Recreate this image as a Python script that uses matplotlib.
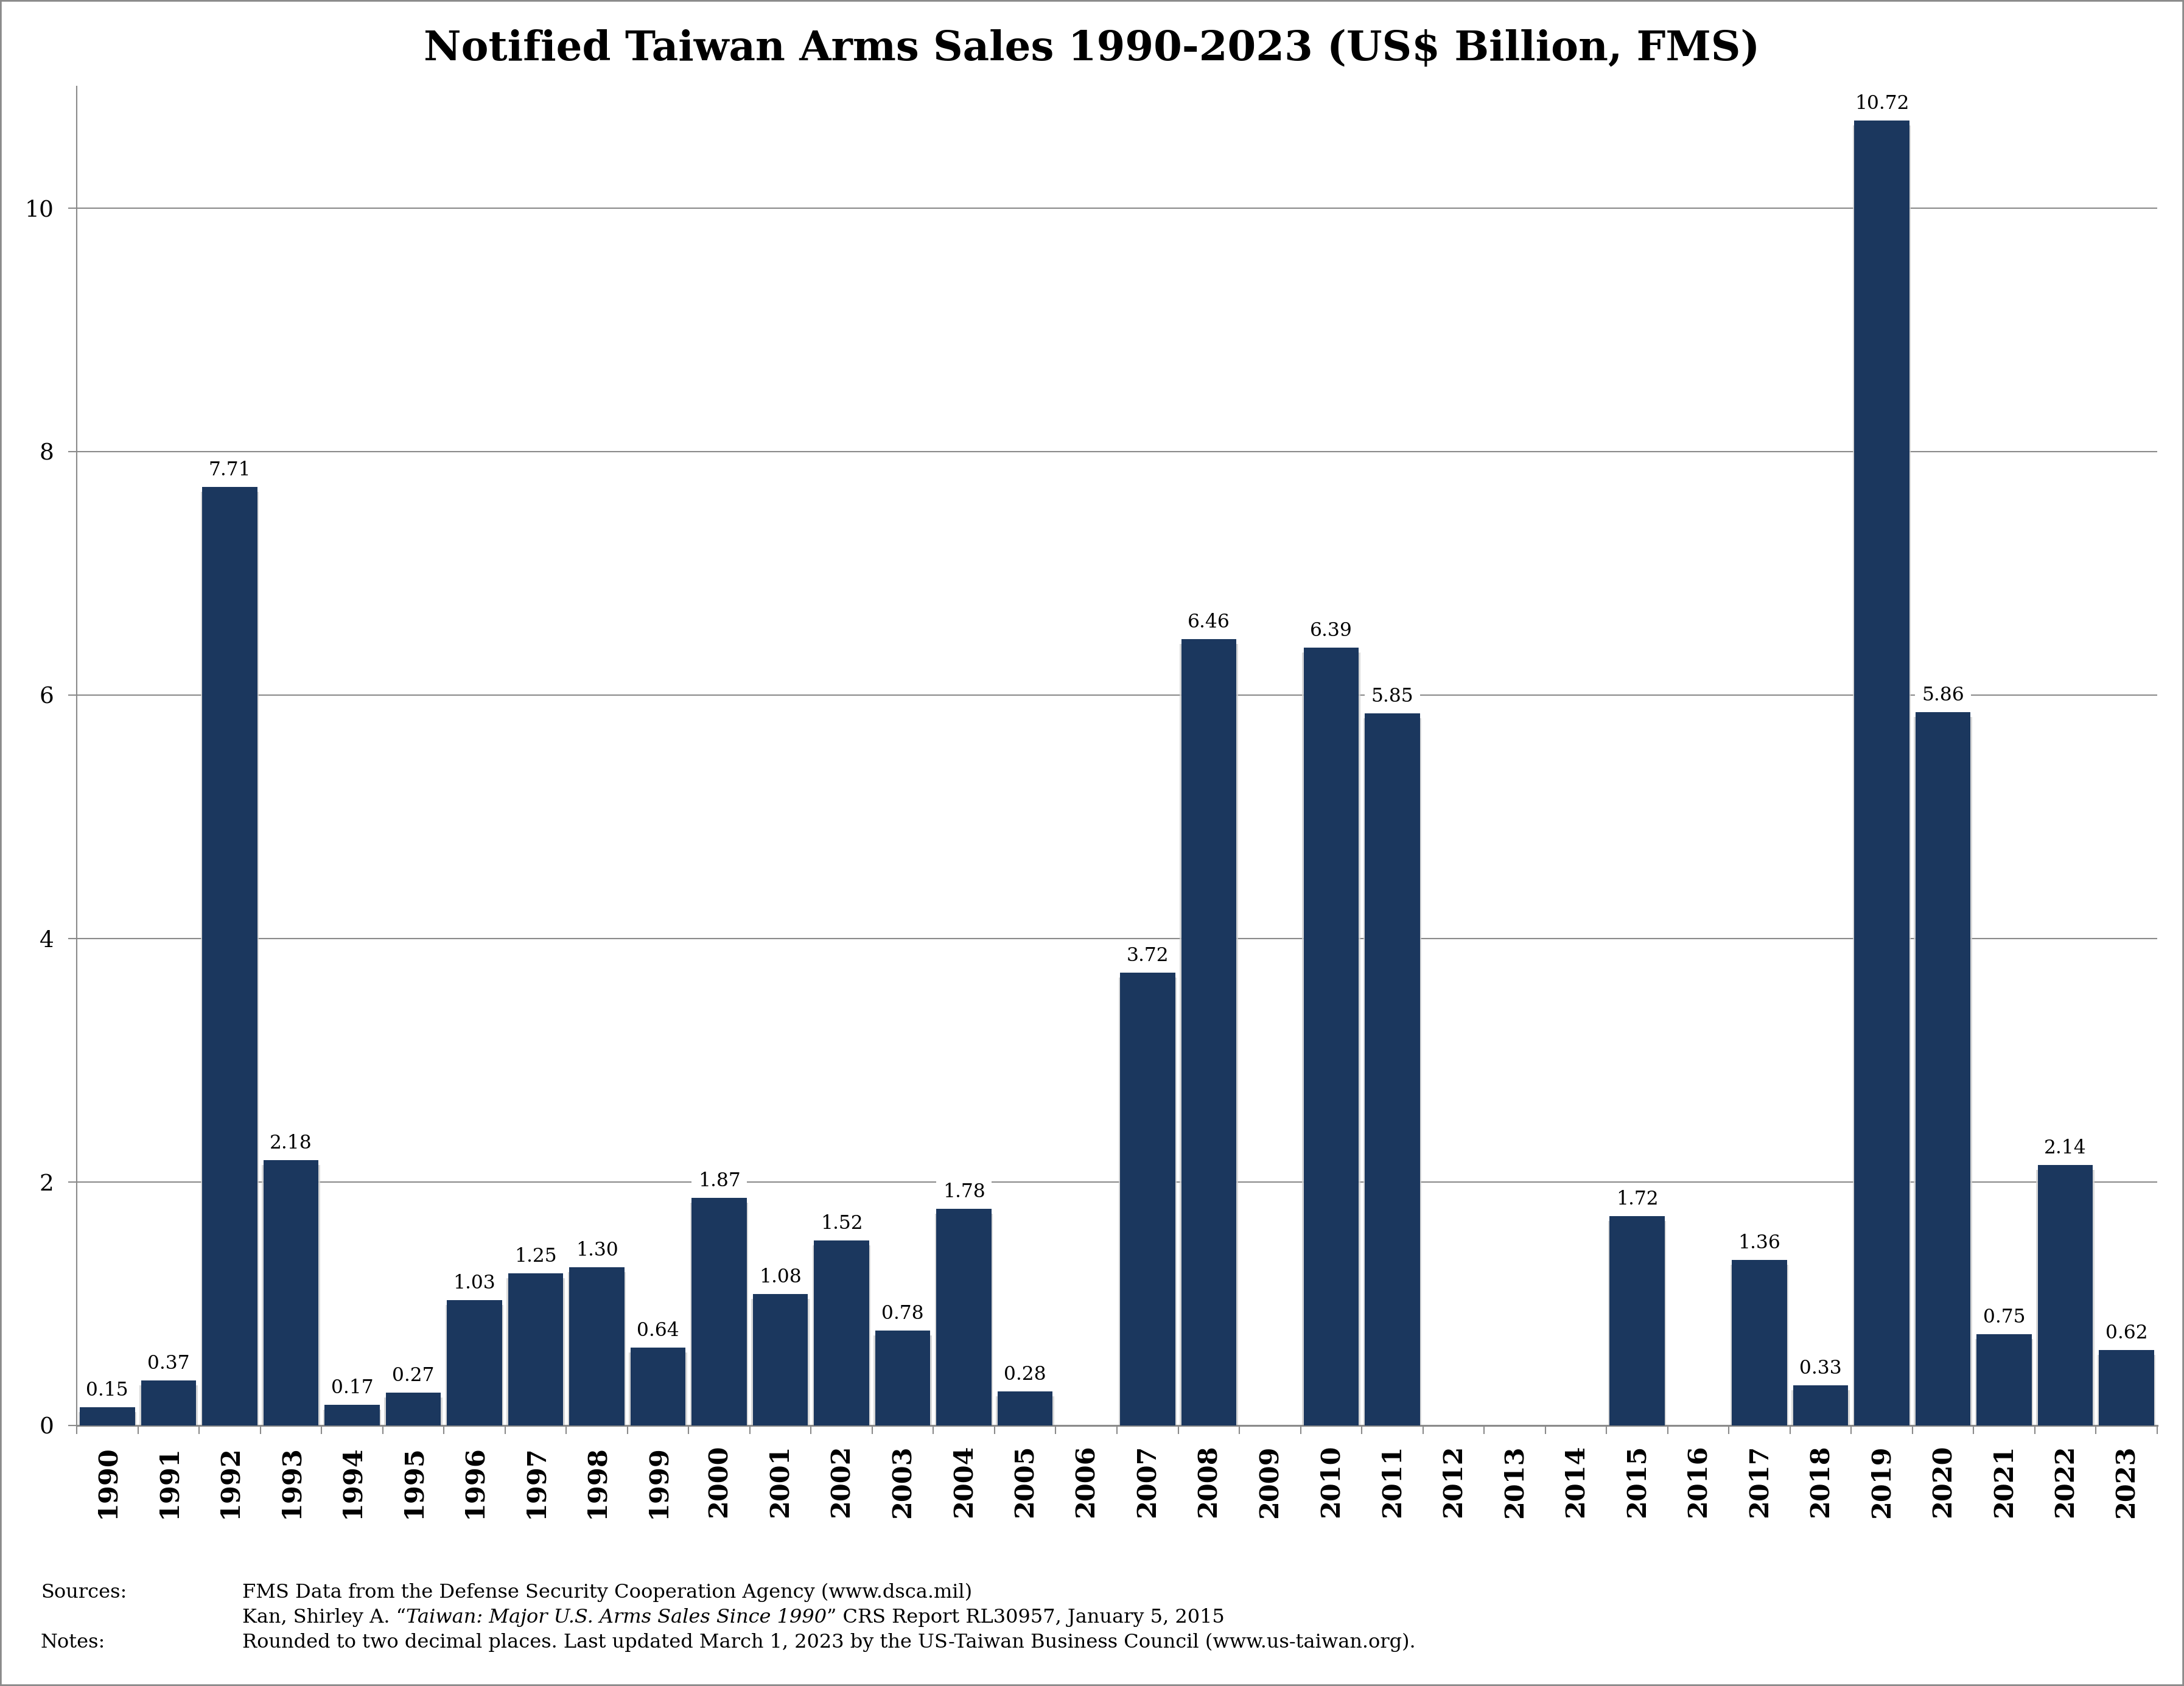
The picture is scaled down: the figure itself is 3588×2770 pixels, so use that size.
import matplotlib
matplotlib.use('Agg')
import matplotlib.pyplot as plt
from matplotlib.patches import Rectangle
import numpy as np

years = [str(y) for y in range(1990, 2024)]
values = [0.15, 0.37, 7.71, 2.18, 0.17, 0.27, 1.03, 1.25, 1.30, 0.64,
          1.87, 1.08, 1.52, 0.78, 1.78, 0.28, 0, 3.72, 6.46, 0,
          6.39, 5.85, 0, 0, 0, 1.72, 0, 1.36, 0.33, 10.72,
          5.86, 0.75, 2.14, 0.62]
y_ticks = [0, 2, 4, 6, 8, 10]
title = "Notified Taiwan Arms Sales 1990-2023 (US$ Billion, FMS)"
src_label = "Sources:"
src_line1 = "FMS Data from the Defense Security Cooperation Agency (www.dsca.mil)"
src_line2 = ["Kan, Shirley A. \u201c", "Taiwan: Major U.S. Arms Sales Since 1990",
             "\u201d CRS Report RL30957, January 5, 2015"]
notes_label = "Notes:"
notes_line = ("Rounded to two decimal places. Last updated March 1, 2023 by the "
              "US-Taiwan Business Council (www.us-taiwan.org).")

plt.rcParams['font.family'] = ['DejaVu Serif']

W, H = 3588, 2770
fig = plt.figure(figsize=(W / 100, H / 100), dpi=100)
ax = fig.add_axes([126 / W, 1 - 2342 / H, (3544 - 126) / W, (2342 - 142) / H])

bar_color = '#1B375E'
grid_color = '#8a8a8a'
x = np.arange(len(years))
vals = np.array(values)

# soft shadow
ax.bar(x, np.clip(vals - 0.04, 0, None), width=0.95, color='#cfcfcf', alpha=0.8, zorder=2, linewidth=0)
ax.bar(x, vals, width=0.9, color=bar_color, zorder=3, linewidth=0)

for xi, v in zip(x, vals):
    if v > 0:
        ax.annotate(f"{v:.2f}", (xi, v), xytext=(0, 12), textcoords='offset pixels',
                    ha='center', va='bottom', fontsize=22.5, color='black',
                    bbox=dict(boxstyle='square,pad=0.35', fc='white', ec='none'), zorder=4)

ax.set_xlim(-0.5, len(years) - 0.5)
ax.set_ylim(0, 11)
ax.set_yticks(y_ticks)
ax.set_yticklabels([str(t) for t in y_ticks], fontsize=27)
ax.yaxis.grid(True, color=grid_color, linewidth=1.5, zorder=0)
ax.set_axisbelow(True)

ax.set_xticks(np.arange(-0.5, len(years), 1))
ax.set_xticklabels([])
ax.set_xticks(x, minor=True)
ax.set_xticklabels(years, minor=True, rotation=90, fontweight='bold', fontsize=31)
ax.tick_params(axis='x', which='major', length=10, width=1.5, color=grid_color, direction='out')
ax.tick_params(axis='x', which='minor', length=0, pad=23)
ax.tick_params(axis='y', which='major', length=10, width=1.5, color=grid_color, pad=17)

for s in ['top', 'right']:
    ax.spines[s].set_visible(False)
ax.spines['left'].set_color(grid_color)
ax.spines['left'].set_linewidth(1.5)
ax.spines['bottom'].set_color(grid_color)
ax.spines['bottom'].set_linewidth(2.2)

fig.text(0.5, 1 - 80 / H, title, ha='center', va='center', fontsize=48.4, fontweight='bold')

fs = 23
x1 = 67 / W
x2 = 398 / W
yb1 = 1 - 2625 / H
yb2 = 1 - 2666 / H
yb3 = 1 - 2707 / H
fig.text(x1, yb1, src_label, fontsize=fs, va='baseline')
fig.text(x2, yb1, src_line1, fontsize=fs, va='baseline')
t = fig.text(x2, yb2, src_line2[0], fontsize=fs, va='baseline')
t2 = ax.annotate(src_line2[1], xy=(1, 0), xycoords=t, va='bottom', ha='left',
                 fontsize=fs, fontstyle='italic', annotation_clip=False)
ax.annotate(src_line2[2], xy=(1, 0), xycoords=t2, va='bottom', ha='left',
            fontsize=fs, annotation_clip=False)
fig.text(x1, yb3, notes_label, fontsize=fs, va='baseline')
fig.text(x2, yb3, notes_line, fontsize=fs, va='baseline')

fig.patches.append(Rectangle((0, 0), 1, 1, transform=fig.transFigure, fill=False,
                             ec='#8a8a8a', lw=4, zorder=10))

fig.savefig('out.png', dpi=100, facecolor='white')
